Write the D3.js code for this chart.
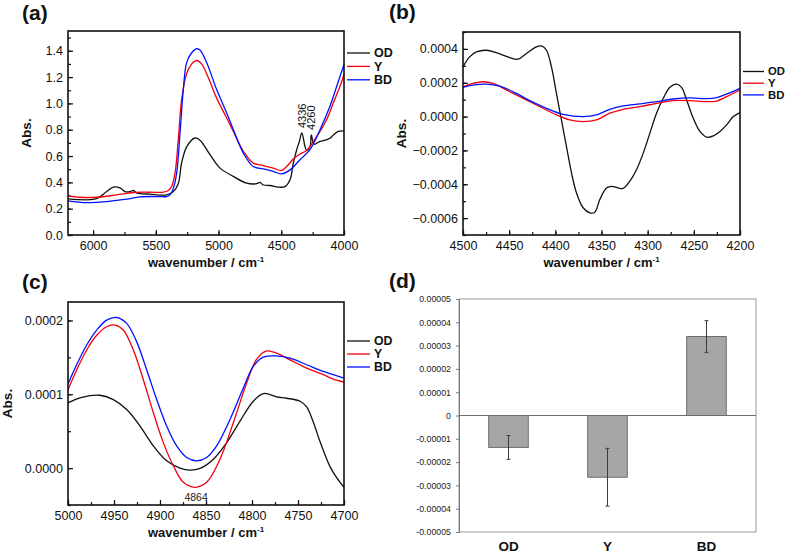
<!DOCTYPE html>
<html>
<head>
<meta charset="utf-8">
<script src="https://cdn.jsdelivr.net/npm/d3@7"></script>
<style>
  body { margin: 0; background: #fff; }
  svg { font-family: "Liberation Sans", Arial, sans-serif; }
</style>
</head>
<body>
<svg width="787" height="554"></svg>
<script>
// ---- (a) NIR spectra, [wavenumber, Abs.] ----
const odA = [[6200,0.274],[6000,0.27],[5945,0.29],[5892,0.33],[5839,0.363],[5786,0.358],[5746,0.33],[5706,0.33],[5679,0.338],[5653,0.32],[5546,0.31],[5414,0.305],[5360,0.33],[5321,0.39],[5294,0.55],[5254,0.67],[5188,0.737],[5148,0.72],[5068,0.61],[4988,0.508],[4882,0.445],[4776,0.394],[4696,0.39],[4670,0.40],[4643,0.38],[4590,0.376],[4510,0.363],[4470,0.368],[4430,0.42],[4404,0.546],[4377,0.648],[4356,0.71],[4336,0.775],[4311,0.673],[4298,0.643],[4271,0.673],[4260,0.76],[4239,0.69],[4191,0.711],[4151,0.72],[4112,0.735],[4085,0.76],[4045,0.787],[4000,0.79]];
const yA = [[6200,0.30],[6104,0.287],[5971,0.287],[5812,0.305],[5679,0.323],[5546,0.325],[5440,0.325],[5400,0.338],[5374,0.368],[5347,0.47],[5321,0.724],[5294,1.03],[5254,1.227],[5214,1.30],[5174,1.326],[5135,1.30],[5081,1.194],[5015,1.04],[4935,0.889],[4882,0.787],[4802,0.635],[4723,0.546],[4643,0.528],[4563,0.508],[4497,0.49],[4457,0.52],[4404,0.577],[4351,0.615],[4298,0.643],[4244,0.71],[4191,0.787],[4138,0.877],[4085,1.004],[4032,1.13],[4000,1.22]];
const bdA = [[6200,0.26],[6051,0.246],[5892,0.254],[5732,0.272],[5626,0.29],[5467,0.292],[5414,0.292],[5387,0.305],[5360,0.356],[5334,0.47],[5307,0.775],[5281,1.105],[5254,1.31],[5214,1.385],[5174,1.415],[5148,1.405],[5095,1.31],[5015,1.105],[4935,0.927],[4882,0.80],[4802,0.622],[4723,0.52],[4643,0.503],[4563,0.483],[4497,0.465],[4430,0.495],[4351,0.572],[4271,0.648],[4191,0.80],[4112,0.978],[4058,1.13],[4000,1.296]];
const peaksA = [[4336,0.775],[4260,0.76]];

// ---- (b) 4500-4200 region, Abs. in units of 1e-4 ----
const odB = [[4500,2.94],[4492.8,3.53],[4485.5,3.82],[4474.7,3.92],[4463.9,3.78],[4449.4,3.49],[4440.4,3.39],[4431.3,3.73],[4420.5,4.12],[4415.1,4.18],[4409.6,3.92],[4404.2,2.94],[4398.8,1.37],[4393.4,-0.2],[4388,-1.76],[4382.5,-3.33],[4377.1,-4.51],[4369.9,-5.39],[4362.7,-5.69],[4357.2,-5.65],[4351.8,-4.9],[4344.6,-4.22],[4339.2,-4.12],[4331.9,-4.22],[4326.5,-4.25],[4319.3,-3.82],[4312.1,-3.14],[4304.8,-2.16],[4297.6,-0.98],[4290.4,0.2],[4283.1,1.08],[4275.9,1.73],[4268.7,1.92],[4263.3,1.73],[4257.8,0.98],[4250.6,-0.1],[4243.4,-0.88],[4236.1,-1.22],[4228.9,-1.14],[4221.7,-0.88],[4214.5,-0.49],[4207.2,0],[4200,0.235]];
const yB = [[4500,1.76],[4489.2,1.96],[4478.3,2.06],[4467.5,1.96],[4449.4,1.47],[4427.7,0.88],[4409.6,0.39],[4398.8,0.1],[4384.3,-0.2],[4369.9,-0.294],[4355.4,-0.2],[4341,0.2],[4326.5,0.43],[4308.4,0.59],[4290.4,0.78],[4272.3,0.94],[4254.2,0.94],[4236.1,0.88],[4225.3,0.92],[4214.5,1.18],[4200,1.57]];
const bdB = [[4500,1.73],[4489.2,1.86],[4474.7,1.92],[4460.2,1.80],[4442.2,1.37],[4427.7,0.94],[4409.6,0.49],[4391.6,0.137],[4369.9,0],[4355.4,0.1],[4341,0.43],[4326.5,0.63],[4308.4,0.75],[4290.4,0.88],[4272.3,1.04],[4254.2,1.10],[4236.1,1.06],[4225.3,1.12],[4214.5,1.33],[4200,1.67]];

// ---- (c) 5000-4700 region, Abs. in units of 1e-4 ----
const odC = [[5000,0.883],[4987,0.95],[4976.1,0.982],[4965.2,0.987],[4950.7,0.928],[4936.2,0.794],[4921.7,0.57],[4907.2,0.30],[4892.8,0.099],[4878.3,0],[4867.4,-0.027],[4856.5,-0.004],[4842,0.121],[4827.5,0.345],[4813,0.637],[4798.6,0.906],[4787.7,1.009],[4780.4,0.996],[4773.2,0.964],[4762.3,0.946],[4747.8,0.906],[4740.6,0.83],[4733.3,0.62],[4726.1,0.36],[4715.2,0.02],[4708,-0.13],[4700,-0.26]];
const yC = [[5000,1.063],[4990.6,1.33],[4979.7,1.60],[4968.8,1.80],[4958,1.915],[4948.9,1.937],[4939.9,1.87],[4929,1.60],[4918.1,1.197],[4907.2,0.749],[4896.4,0.345],[4885.5,0.031],[4874.6,-0.193],[4861.9,-0.26],[4849.3,-0.193],[4834.8,0.121],[4820.3,0.614],[4805.8,1.152],[4794.9,1.475],[4784.1,1.587],[4773.2,1.556],[4758.7,1.466],[4740.6,1.354],[4722.5,1.265],[4711.6,1.206],[4700,1.166]];
const bdC = [[5000,1.139],[4990.6,1.40],[4979.7,1.668],[4968.8,1.87],[4958,2.004],[4947.1,2.04],[4936.2,1.96],[4925.4,1.713],[4914.5,1.332],[4903.6,0.928],[4892.8,0.57],[4881.9,0.30],[4871,0.143],[4860.1,0.099],[4849.3,0.143],[4838.4,0.30],[4823.9,0.659],[4809.4,1.085],[4798.6,1.377],[4787.7,1.502],[4773.2,1.52],[4758.7,1.489],[4740.6,1.40],[4722.5,1.309],[4711.6,1.265],[4700,1.22]];
const peaksC = [[4864,-0.26]];

// ---- (d) bar chart ----
const barCats = ['OD', 'Y', 'BD'];
const barMeans = [-0.0000137, -0.0000265, 0.0000339];
const barErrs = [0.0000051, 0.0000124, 0.0000068];

// tick values
const ticksAx = [6000, 5500, 5000, 4500, 4000];
const ticksAy = [0, 0.2, 0.4, 0.6, 0.8, 1.0, 1.2, 1.4];
const ticksBx = [4500, 4450, 4400, 4350, 4300, 4250, 4200];
const ticksBy = [-0.0006, -0.0004, -0.0002, 0, 0.0002, 0.0004];
const ticksCx = [5000, 4950, 4900, 4850, 4800, 4750, 4700];
const ticksCy = [0, 0.0001, 0.0002];
const ticksDy = [-5, -4, -3, -2, -1, 0, 1, 2, 3, 4, 5].map(d => d * 0.00001);

const legendNames = ['OD', 'Y', 'BD'];
const colors = ['#111', '#f00010', '#0010ff'];

const svg = d3.select('svg');

function range(a, b, step) {
  // inclusive range, rounded to avoid float drift
  const n = Math.round((b - a) / step);
  return d3.range(n + 1).map(i => +(a + i * step).toPrecision(10));
}

function spectrum(p) {
  const w = p.right - p.left;
  const h = p.bottom - p.top;
  const g = svg.append('g').attr('transform', `translate(${p.left},${p.top})`);

  const x = d3.scaleLinear().domain(p.xDomain).range([0, w]);
  const y = d3.scaleLinear().domain(p.yDomain).range([h, 0]);

  // minor ticks
  g.append('g')
    .attr('transform', `translate(0,${h})`)
    .call(d3.axisBottom(x).tickValues(p.xMinor).tickSize(-3).tickFormat(''))
    .call(a => a.select('.domain').remove());
  g.append('g')
    .call(d3.axisLeft(y).tickValues(p.yMinor).tickSize(-3).tickFormat(''))
    .call(a => a.select('.domain').remove());

  // major ticks + labels
  g.append('g')
    .attr('transform', `translate(0,${h})`)
    .call(d3.axisBottom(x).tickValues(p.xTicks).tickSize(-5).tickPadding(6).tickFormat(d3.format('d')))
    .call(a => a.select('.domain').remove())
    .call(a => a.selectAll('text').attr('font-size', 12.5).attr('font-family', null).attr('fill', '#111'));
  g.append('g')
    .call(d3.axisLeft(y).tickValues(p.yTicks).tickSize(-5).tickPadding(5).tickFormat(p.yFormat))
    .call(a => a.select('.domain').remove())
    .call(a => a.selectAll('text').attr('font-size', 12.5).attr('font-family', null).attr('fill', '#111'));
  g.selectAll('.tick line').attr('stroke', '#111').attr('stroke-width', 1.2);

  const line = d3.line()
    .x(d => x(d[0]))
    .y(d => y(d[1] * p.unit))
    .curve(d3.curveCatmullRom.alpha(0.5));

  p.series.forEach((s, i) => {
    g.append('path')
      .datum(s)
      .attr('fill', 'none')
      .attr('stroke', colors[i])
      .attr('stroke-width', 1.3)
      .attr('d', line);
  });

  // frame
  g.append('rect')
    .attr('width', w).attr('height', h)
    .attr('fill', 'none').attr('stroke', '#111').attr('stroke-width', 1.6);

  // legend
  const lg = g.append('g').attr('transform', `translate(${w + 3},${p.legendTop})`);
  legendNames.forEach((n, i) => {
    const ly = i * p.legendStep;
    lg.append('line').attr('x1', 0).attr('x2', p.legendLine).attr('y1', ly).attr('y2', ly)
      .attr('stroke', colors[i]).attr('stroke-width', 1.3);
    lg.append('text').attr('x', p.legendLine + 4).attr('y', ly).attr('dy', '0.35em')
      .attr('font-size', p.legendFont).attr('font-weight', 'bold').attr('fill', '#111').text(n);
  });

  // axis titles
  g.append('text')
    .attr('transform', `translate(${p.yTitleX},${h / 2}) rotate(-90)`)
    .attr('text-anchor', 'middle')
    .attr('font-size', 13.5).attr('font-weight', 'bold').attr('fill', '#111')
    .text('Abs.');
  const xt = g.append('text')
    .attr('x', w / 2).attr('y', h + 32)
    .attr('text-anchor', 'middle')
    .attr('font-size', 13).attr('font-weight', 'bold').attr('fill', '#111');
  xt.append('tspan').text('wavenumber / cm');
  xt.append('tspan').attr('dy', -5).attr('font-size', 8).text('-1');

  // panel tag
  svg.append('text')
    .attr('x', p.tagX).attr('y', p.tagY)
    .attr('font-size', 21).attr('font-weight', 'bold').attr('fill', '#111')
    .text(p.tag);

  return {g, x, y};
}

// (a)
const pa = spectrum({
  left: 68, right: 344, top: 31, bottom: 235,
  xDomain: [6200, 4000], yDomain: [0, 1.55], unit: 1,
  xTicks: ticksAx, xMinor: range(4000, 6000, 250),
  yTicks: ticksAy, yMinor: range(0, 1.5, 0.1),
  yFormat: d3.format('.1f'),
  series: [odA, yA, bdA],
  legendTop: 22, legendStep: 13.4, legendLine: 23, legendFont: 12.5,
  yTitleX: -37, tag: '(a)', tagX: 22, tagY: 20
});
pa.g.selectAll('.peak')
  .data(peaksA)
  .join('text')
  .attr('class', 'peak')
  .attr('transform', d => `translate(${pa.x(d[0]) + 4},${pa.y(d[1]) - 5}) rotate(-90)`)
  .attr('font-size', 11).attr('fill', '#111')
  .text(d => d[0]);

// (b)
spectrum({
  left: 463, right: 740, top: 32, bottom: 235,
  xDomain: [4500, 4200], yDomain: [-0.0007, 0.0005], unit: 1e-4,
  xTicks: ticksBx, xMinor: range(4200, 4500, 25),
  yTicks: ticksBy, yMinor: range(-0.0007, 0.0005, 0.0001),
  yFormat: d3.format('.4f'),
  series: [odB, yB, bdB],
  legendTop: 39.5, legendStep: 11.7, legendLine: 21, legendFont: 11.3,
  yTitleX: -57, tag: '(b)', tagX: 389, tagY: 19
});

// (c)
const pc = spectrum({
  left: 68, right: 344, top: 302, bottom: 505,
  xDomain: [5000, 4700], yDomain: [-0.00005, 0.000225], unit: 1e-4,
  xTicks: ticksCx, xMinor: range(4700, 5000, 25),
  yTicks: ticksCy, yMinor: range(-0.00005, 0.0002, 0.00005),
  yFormat: d3.format('.4f'),
  series: [odC, yC, bdC],
  legendTop: 39, legendStep: 13, legendLine: 23, legendFont: 12.3,
  yTitleX: -56, tag: '(c)', tagX: 22, tagY: 289
});
pc.g.selectAll('.peak')
  .data(peaksC)
  .join('text')
  .attr('class', 'peak')
  .attr('x', d => pc.x(d[0]) + 3)
  .attr('y', d => pc.y(d[1] * 1e-4) + 14)
  .attr('text-anchor', 'middle')
  .attr('font-size', 10.5).attr('fill', '#222')
  .text(d => d[0]);

// (d)
(function() {
  const left = 459, right = 756, top = 299, bottom = 532;
  const w = right - left, h = bottom - top;
  const g = svg.append('g').attr('transform', `translate(${left},${top})`);
  const x = d3.scaleBand().domain(barCats).range([0, w]).paddingInner(0.6).paddingOuter(0.3);
  const y = d3.scaleLinear().domain([-0.00005, 0.00005]).range([h, 0]);

  g.append('rect').attr('width', w).attr('height', h)
    .attr('fill', 'none').attr('stroke', '#9a9a9a').attr('stroke-width', 1);

  g.append('g')
    .call(d3.axisLeft(y).tickValues(ticksDy).tickSize(3).tickSizeOuter(0).tickPadding(5)
      .tickFormat(d => Math.abs(d) < 1e-12 ? '0' : d.toFixed(5)))
    .call(a => a.select('.domain').attr('stroke', '#7a7a7a'))
    .call(a => a.selectAll('.tick line').attr('stroke', '#7a7a7a'))
    .call(a => a.selectAll('text').attr('font-size', 8.8).attr('font-family', null).attr('fill', '#222'));

  g.selectAll('.bar')
    .data(barCats)
    .join('rect')
    .attr('class', 'bar')
    .attr('x', d => x(d))
    .attr('width', x.bandwidth())
    .attr('y', (d, i) => y(Math.max(0, barMeans[i])))
    .attr('height', (d, i) => Math.abs(y(barMeans[i]) - y(0)))
    .attr('fill', '#a6a6a6').attr('stroke', '#6e6e6e').attr('stroke-width', 1);

  // zero line
  g.append('line').attr('x1', 0).attr('x2', w).attr('y1', y(0)).attr('y2', y(0))
    .attr('stroke', '#6e6e6e').attr('stroke-width', 1);

  // error bars
  const eb = g.selectAll('.err').data(barCats).join('g').attr('class', 'err')
    .attr('stroke', '#3a3a3a').attr('stroke-width', 1);
  eb.append('line')
    .attr('x1', d => x(d) + x.bandwidth() / 2).attr('x2', d => x(d) + x.bandwidth() / 2)
    .attr('y1', (d, i) => y(barMeans[i] + barErrs[i]))
    .attr('y2', (d, i) => y(barMeans[i] - barErrs[i]));
  [1, -1].forEach(s => {
    eb.append('line')
      .attr('x1', d => x(d) + x.bandwidth() / 2 - 2).attr('x2', d => x(d) + x.bandwidth() / 2 + 2)
      .attr('y1', (d, i) => y(barMeans[i] + s * barErrs[i]))
      .attr('y2', (d, i) => y(barMeans[i] + s * barErrs[i]));
  });

  g.selectAll('.cat').data(barCats).join('text')
    .attr('class', 'cat')
    .attr('x', d => x(d) + x.bandwidth() / 2)
    .attr('y', h + 19)
    .attr('text-anchor', 'middle')
    .attr('font-size', 13.5).attr('font-weight', 'bold').attr('fill', '#111')
    .text(d => d);

  svg.append('text').attr('x', 389).attr('y', 288)
    .attr('font-size', 21).attr('font-weight', 'bold').attr('fill', '#111').text('(d)');
})();
</script>
</body>
</html>
